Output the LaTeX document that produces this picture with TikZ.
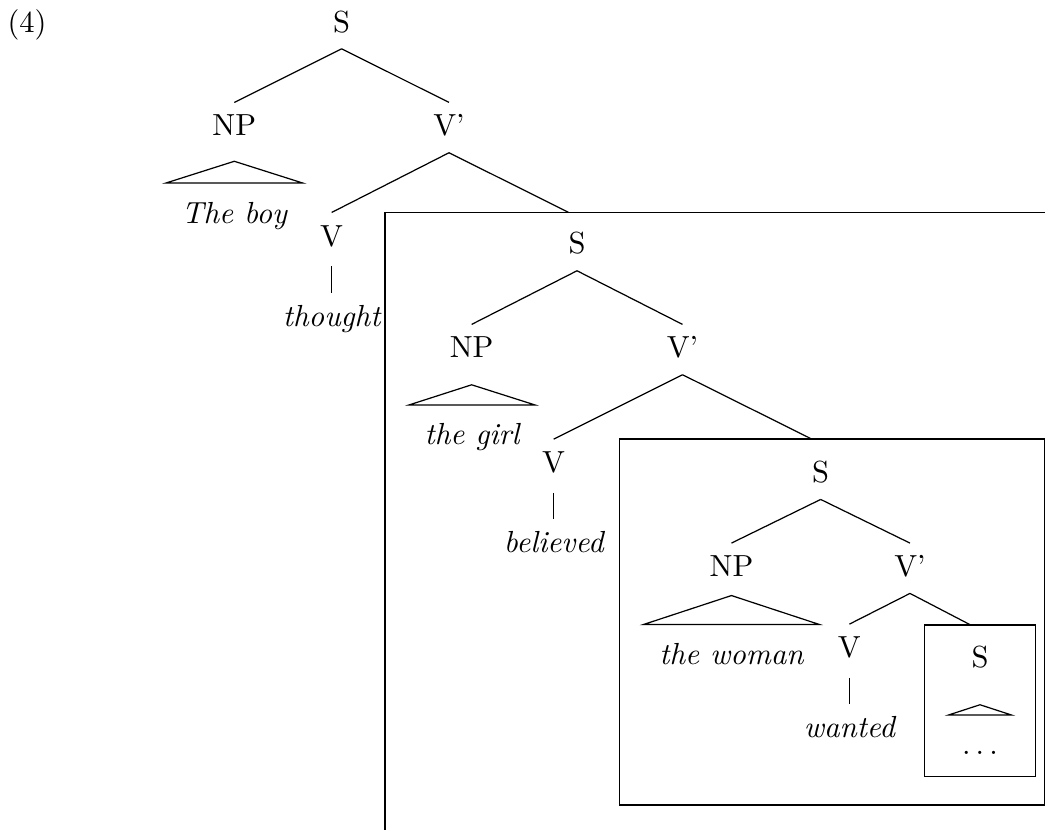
\documentclass[tikz,border=0pt]{standalone}
\usepackage{amsmath,amsfonts,amssymb}
\usepackage{tikz}

\begin{document}
\begin{tikzpicture}[
  my cat/.style={
    anchor=base,
    text height=7.5pt, text depth=2pt,
    inner sep=3.3pt,
  },
  my leaf/.style={
    my cat, font=\itshape,
    inner xsep=5pt, inner ysep=5.4pt,
  },
  my word/.style={my cat, font=\itshape},
  ]
  \useasboundingbox (0,0) rectangle (12.042,-9.565);
  \node[anchor=base] (ex) at (0.311,-0.369) {(4)};
  % matrix clause
  \node[my cat] (S1) at (3.937,-0.369) {S};
  \node[my cat] (NP1) at (2.700,-1.567) {NP};
  \node[my cat] (Vb1) at (5.174,-1.567) {V'};
  \node[my leaf] (boy) at (2.700,-2.570) {The boy};
  \node[my cat] (V1) at (3.822,-2.835) {V};
  \node[my word] (thought) at (3.822,-3.768) {thought};
  \coordinate (B1) at (6.549,-2.446);
  \draw (S1.south) -- (NP1.north);
  \draw (S1.south) -- (Vb1.north);
  \draw ([yshift=-2.8pt]NP1.south) -- (boy.north east) -- (boy.north west) -- cycle;
  \draw (Vb1.south) -- (V1.north);
  \draw (Vb1.south) -- (B1);
  \draw[shorten <=1.1pt] (V1.south) -- (thought.north);
  \draw (12.042,-2.446) -| (4.436,-9.565);
  % first embedded clause
  \node[my cat] (S2) at (6.649,-2.927) {S};
  \node[my cat] (NP2) at (5.435,-4.125) {NP};
  \node[my cat] (Vb2) at (7.865,-4.125) {V'};
  \node[my leaf] (girl) at (5.439,-5.128) {the girl};
  \node[my cat] (V2) at (6.380,-5.447) {V};
  \node[my word] (believed) at (6.380,-6.372) {believed};
  \coordinate (B2) at (9.353,-5.059);
  \draw (S2.south) -- (NP2.north);
  \draw (S2.south) -- (Vb2.north);
  \draw ([yshift=-3.3pt]NP2.south) -- (girl.north east) -- (girl.north west) -- cycle;
  \draw (Vb2.south) -- (V2.north);
  \draw (Vb2.south) -- (B2);
  \draw[shorten <=1.1pt] (V2.south) -- (believed.north);
  \draw (7.136,-5.059) rectangle (12.034,-9.276);
  % second embedded clause
  \node[my cat] (S3) at (9.457,-5.562) {S};
  \node[my cat] (NP3) at (8.429,-6.645) {NP};
  \node[my cat] (Vb3) at (10.486,-6.645) {V'};
  \node[my leaf] (woman) at (8.429,-7.657) {the woman};
  \node[my cat] (V3) at (9.788,-7.579) {V};
  \node[my word] (wanted) at (9.788,-8.504) {wanted};
  \coordinate (B3) at (11.185,-7.202);
  \draw (S3.south) -- (NP3.north);
  \draw (S3.south) -- (Vb3.north);
  \draw ([yshift=-0.7pt]NP3.south) -- (woman.north east) -- (woman.north west) -- cycle;
  \draw (Vb3.south) -- (V3.north);
  \draw (Vb3.south) -- (B3);
  \draw[shorten <=1.1pt] (V3.south) -- (wanted.north);
  \draw (10.651,-7.202) rectangle (11.930,-8.950);
  % innermost clause
  \node[my cat] (S4) at (11.293,-7.689) {S};
  \node[my leaf, inner xsep=4.3pt] (rest) at (11.293,-8.700) {$\ldots$};
  \draw ([yshift=-6.8pt]S4.south) -- (rest.north east) -- (rest.north west) -- cycle;
\end{tikzpicture}
\end{document}
